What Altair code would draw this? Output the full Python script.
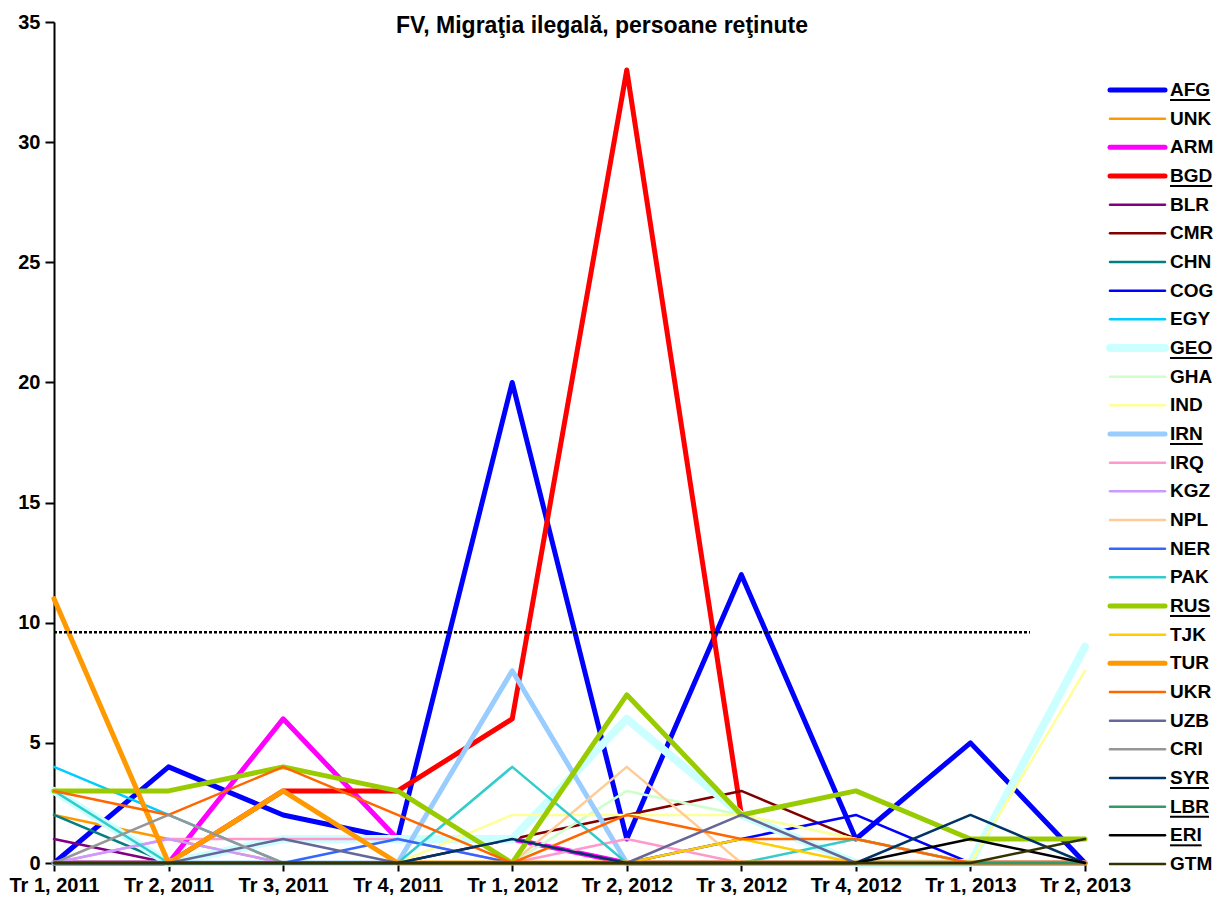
import altair as alt
import pandas as pd

# ---------------- data ----------------
QUARTERS = ["Tr 1, 2011", "Tr 2, 2011", "Tr 3, 2011", "Tr 4, 2011", "Tr 1, 2012",
            "Tr 2, 2012", "Tr 3, 2012", "Tr 4, 2012", "Tr 1, 2013", "Tr 2, 2013"]

SERIES = ["AFG", "UNK", "ARM", "BGD", "BLR", "CMR", "CHN", "COG", "EGY", "GEO",
          "GHA", "IND", "IRN", "IRQ", "KGZ", "NPL", "NER", "PAK", "RUS", "TJK",
          "TUR", "UKR", "UZB", "CRI", "SYR", "LBR", "ERI", "GTM"]

AFG = [0, 4, 2, 1, 20, 1, 12, 1, 5, 0]
UNK = [2, 1, 0, 0, 0, 0, 0, 0, 0, 0]
ARM = [0, 0, 6, 1, 1, 0, 0, 0, 0, 0]
BGD = [0, 0, 3, 3, 6, 33, 2, None, None, None]
BLR = [1, 0, 0, 0, 0, 0, 0, 0, 0, 0]
CMR = [0, 0, 0, 0, 1, 2, 3, 1, 0, 0]
CHN = [2, 0, 0, 0, 0, 0, 0, 0, 0, 0]
COG = [0, 0, 0, 0, 0, 0, 1, 2, 0, 0]
EGY = [4, 2, 0, 0, 0, 0, 0, 0, 0, 0]
GEO = [3, 0, 1, 1, 1, 6, 2, 0, 0, 9]
GHA = [0, 0, 0, 0, 0, 3, 2, 1, 0, 0]
IND = [0, 0, 0, 0, 2, 2, 2, 1, 0, 8]
IRN = [0, 0, 0, 0, 8, 0, 0, 0, 0, 0]
IRQ = [0, 1, 1, 1, 0, 1, 0, 0, 0, 0]
KGZ = [0, 1, 0, 0, 0, 0, 0, 0, 0, 0]
NPL = [0, 0, 0, 0, 0, 4, 0, 0, 0, 0]
NER = [0, 0, 0, 1, 0, 0, 0, 0, 0, 0]
PAK = [3, 0, 0, 0, 4, 0, 0, 1, 0, 0]
RUS = [3, 3, 4, 3, 0, 7, 2, 3, 1, 1]
TJK = [0, 0, 0, 0, 0, 0, 1, 0, 0, 0]
TUR = [11, 0, 3, 0, 0, 0, 0, 0, 0, 0]
UKR = [3, 2, 4, 2, 0, 2, 1, 1, 0, 0]
UZB = [0, 0, 1, 0, 0, 0, 2, 0, 0, 0]
CRI = [0, 2, 0, 0, 0, 0, 0, 0, 0, 0]
SYR = [0, 0, 0, 0, 1, 0, 0, 0, 2, 0]
LBR = [0, 0, 0, 0, 0, 0, 0, 0, 0, 0]
ERI = [0, 0, 0, 0, 0, 0, 0, 0, 1, 0]
GTM = [0, 0, 0, 0, 0, 0, 0, 0, 0, 1]

UNDERLINED = ["AFG", "BGD", "GEO", "IRN", "RUS", "SYR", "LBR", "ERI"]
THRESHOLD = 9.6
TITLE = "FV, Migraţia ilegală, persoane reţinute"

# ---------------- styles ----------------
COLORS = {
    "AFG": "#0000FF", "UNK": "#FF9900", "ARM": "#FF00FF", "BGD": "#FF0000",
    "BLR": "#800080", "CMR": "#800000", "CHN": "#008080", "COG": "#0000FF",
    "EGY": "#00CCFF", "GEO": "#CCFFFF", "GHA": "#CCFFCC", "IND": "#FFFF99",
    "IRN": "#99CCFF", "IRQ": "#FF99CC", "KGZ": "#CC99FF", "NPL": "#FFCC99",
    "NER": "#3366FF", "PAK": "#33CCCC", "RUS": "#99CC00", "TJK": "#FFCC00",
    "TUR": "#FF9900", "UKR": "#FF6600", "UZB": "#666699", "CRI": "#969696",
    "SYR": "#003366", "LBR": "#339966", "ERI": "#000000", "GTM": "#333300",
}
THICK = {"AFG": 5, "ARM": 5, "BGD": 5, "IRN": 5, "RUS": 5, "TUR": 5, "GEO": 8}
THIN = 2.5

FONT = "Liberation Sans"
FS = 20        # axis labels
FS_LEG = 19    # legend labels
FS_TITLE = 23
# Liberation Sans Bold advance widths (em) for underline lengths
GLYPH = {"A": .722, "B": .722, "D": .722, "E": .667, "F": .611, "G": .778,
         "I": .278, "L": .611, "N": .722, "O": .778, "R": .722, "S": .667,
         "U": .722, "Y": .667}

W, H = 1031, 841
LEG_X = 1116

# ---------------- tables ----------------
values = {s: globals()[s] for s in SERIES}
rows = []
for s in SERIES:
    for q, v in zip(QUARTERS, values[s]):
        rows.append({"series": s, "quarter": q, "value": v,
                     "w": THICK.get(s, THIN)})
df = pd.DataFrame(rows)

leg = pd.DataFrame({"series": SERIES, "w": [THICK.get(s, THIN) for s in SERIES]})
und = pd.DataFrame({"series": UNDERLINED,
                    "ux1": [LEG_X] * len(UNDERLINED),
                    "ux2": [LEG_X + sum(GLYPH[c] for c in s) * FS_LEG for s in UNDERLINED]})

color_scale = alt.Scale(domain=SERIES, range=[COLORS[s] for s in SERIES])

xaxis = alt.Axis(title=None, labelAngle=0, labelFont=FONT, labelFontSize=FS,
                 labelFontWeight="bold", labelColor="black", domainColor="black",
                 domainWidth=2, tickColor="black", tickWidth=2, tickSize=8,
                 labelPadding=4, grid=False)
yaxis = alt.Axis(title=None, values=list(range(0, 36, 5)), labelFont=FONT,
                 labelFontSize=FS, labelFontWeight="bold", labelColor="black",
                 domainColor="black", domainWidth=2, tickColor="black",
                 tickWidth=2, tickSize=9, labelPadding=5, grid=False)

lines = alt.Chart(df).mark_line(strokeJoin="round", strokeCap="round").encode(
    x=alt.X("quarter:N", sort=QUARTERS,
            scale=alt.Scale(type="point", padding=0), axis=xaxis),
    y=alt.Y("value:Q", scale=alt.Scale(domain=[0, 35], nice=False), axis=yaxis),
    color=alt.Color("series:N", sort=SERIES, scale=color_scale, legend=None),
    strokeWidth=alt.StrokeWidth("w:Q", scale=None),
    detail="series:N",
)

thr = alt.Chart(pd.DataFrame({"t": [THRESHOLD]})).mark_rule(
    color="black", strokeWidth=2.5, strokeDash=[3, 2]
).encode(y="t:Q", x=alt.value(0), x2=alt.value(976))

title = alt.Chart(pd.DataFrame({"t": [TITLE]})).mark_text(
    font=FONT, fontSize=FS_TITLE, fontWeight="bold", color="black",
    align="center", baseline="middle"
).encode(text="t:N", x=alt.value(548), y=alt.value(4))

leg_y = alt.Y("series:N", sort=SERIES,
              scale=alt.Scale(type="point", domain=SERIES, range=[68, 842],
                              padding=0),
              axis=None)

leg_sym = alt.Chart(leg).mark_rule(strokeCap="round").encode(
    y=leg_y, x=alt.value(LEG_X - 60), x2=alt.value(LEG_X - 5),
    color=alt.Color("series:N", sort=SERIES, scale=color_scale, legend=None),
    strokeWidth=alt.StrokeWidth("w:Q", scale=None),
)
leg_txt = alt.Chart(leg).mark_text(
    font=FONT, fontSize=FS_LEG, fontWeight="bold", color="black",
    align="left", baseline="middle"
).encode(y=leg_y, x=alt.value(LEG_X), text="series:N")

leg_und = alt.Chart(und).mark_rule(color="black", strokeWidth=2, yOffset=10).encode(
    y=leg_y,
    x=alt.X("ux1:Q", scale=None),
    x2=alt.X2("ux2:Q"),
)

main = alt.layer(lines, thr, title)
chart = alt.layer(main, leg_sym, leg_txt, leg_und).resolve_scale(
    y="independent"
).properties(width=W, height=H,
             padding={"left": 0, "top": 4, "right": 0, "bottom": 0}
).configure_view(stroke=None)

chart.save("out.html", embed_options={"renderer": "svg", "actions": False})
